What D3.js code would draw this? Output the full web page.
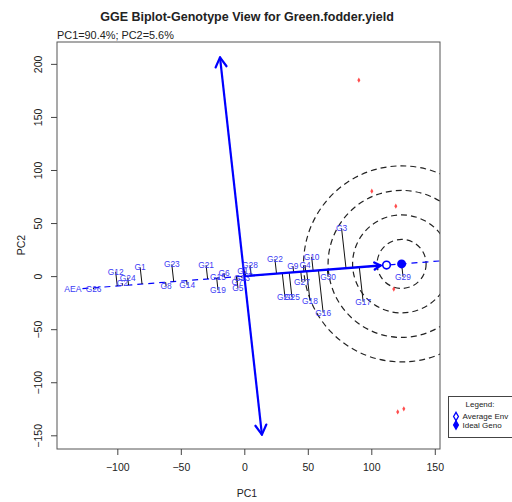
<!DOCTYPE html>
<html>
<head>
<meta charset="utf-8">
<script src="https://cdn.jsdelivr.net/npm/d3@7"></script>
<style>
body { margin: 0; background: #fff; }
text { font-family: "Liberation Sans", Arial, sans-serif; }
</style>
</head>
<body>
<script>
// genotype scores (PC1, PC2)
const genotypes = ['G1','G2','G3','G4','G5','G6','G7','G8','G9','G10',
  'G11','G12','G13','G14','G15','G16','G17','G18','G19','G20',
  'G21','G22','G23','G24','G25','G26','G27','G28','G29','G30'];
const pc1 = [-82, -96.1, 76.6, 47.8, -5, -16, -5.7, -61.6, 38.3, 53,
  0.5, -101.3, -1.8, -45, -20.7, 62.1, 93.6, 51.7, -20.7, 32,
  -30.1, 24.1, -57.1, -91.8, 37.5, -118.7, 45.4, 4.5, 125, 66];
const pc2 = [8.2, -6.6, 44.9, 10.4, -11.3, 2.8, -5.6, -9.4, 9.4, 18.2,
  5, 4.2, -1.9, -8.5, -0.9, -34.5, -24.2, -23.2, -13.2, -19.8,
  10.4, 16, 11, -1.4, -19.8, -12.5, -5.6, 10.4, -0.7, -0.7];

// environments (small red marks)
const envPc1 = [90.2, 100.4, 119.3, 117.7, 120.8, 125.6];
const envPc2 = [184.6, 80, 65.9, -12.2, -128, -125];

const avgEnv = [112, 10.4];
const circleRadii = [19.3, 38.6, 57.9, 77.2];
const atcRange = [207, -150];   // along the axis perpendicular to AEA
const aeaDashRange = [-128, 220];

const xTicks = [-100, -50, 0, 50, 100, 150];
const yTicks = [-150, -100, -50, 0, 50, 100, 150, 200];

const W = 512, H = 502;
const box = {left: 57, right: 440, top: 42, bottom: 449};

const svg = d3.select('body').append('svg')
  .attr('width', W).attr('height', H);

const x = d3.scaleLinear().domain([-147.5, 154.1]).range([box.left, box.right]);
const y = d3.scaleLinear().domain([-162.9, 220.6]).range([box.bottom, box.top]);

svg.append('defs').append('clipPath').attr('id', 'clip')
  .append('rect')
  .attr('x', box.left).attr('y', box.top)
  .attr('width', box.right - box.left).attr('height', box.bottom - box.top);

const plot = svg.append('g').attr('clip-path', 'url(#clip)');

// AEA unit vector and perpendicular
const len = Math.hypot(avgEnv[0], avgEnv[1]);
const u = [avgEnv[0] / len, avgEnv[1] / len];
const v = [-u[1], u[0]];

const proj = (i) => {
  const t = pc1[i] * u[0] + pc2[i] * u[1];
  return [t * u[0], t * u[1]];
};

// ideal genotype: the largest projection on the AEA
let best = 0;
pc1.forEach((d, i) => {
  if (pc1[i]*u[0] + pc2[i]*u[1] > pc1[best]*u[0] + pc2[best]*u[1]) best = i;
});
const ideal = proj(best);

// concentric circles
plot.selectAll('circle.ring').data(circleRadii).join('circle')
  .attr('class', 'ring')
  .attr('cx', x(ideal[0])).attr('cy', y(ideal[1]))
  .attr('r', (d) => x(d) - x(0))
  .attr('fill', 'none').attr('stroke', '#222')
  .attr('stroke-width', 1.2).attr('stroke-dasharray', '6,4');

// dashed AEA line
plot.append('line')
  .attr('x1', x(aeaDashRange[0]*u[0])).attr('y1', y(aeaDashRange[0]*u[1]))
  .attr('x2', x(aeaDashRange[1]*u[0])).attr('y2', y(aeaDashRange[1]*u[1]))
  .attr('stroke', 'blue').attr('stroke-width', 1.2).attr('stroke-dasharray', '6,5');

// arrow head helper (pixel space)
function head(g, x0, y0, x1, y1, size, w) {
  const a = Math.atan2(y1 - y0, x1 - x0);
  [Math.PI/6, -Math.PI/6].forEach((s) => {
    g.append('line')
      .attr('x1', x1).attr('y1', y1)
      .attr('x2', x1 - size*Math.cos(a - s)).attr('y2', y1 - size*Math.sin(a - s))
      .attr('stroke', 'blue').attr('stroke-width', w).attr('stroke-linecap', 'round');
  });
}

// ATC line with arrows both ends
const ax1 = x(atcRange[0]*v[0]), ay1 = y(atcRange[0]*v[1]);
const ax2 = x(atcRange[1]*v[0]), ay2 = y(atcRange[1]*v[1]);
plot.append('line')
  .attr('x1', ax1).attr('y1', ay1).attr('x2', ax2).attr('y2', ay2)
  .attr('stroke', 'blue').attr('stroke-width', 2.2);
head(plot, ax2, ay2, ax1, ay1, 11, 2.2);
head(plot, ax1, ay1, ax2, ay2, 11, 2.2);

// projection lines
plot.selectAll('line.proj').data(genotypes).join('line')
  .attr('class', 'proj')
  .attr('x1', (d, i) => x(pc1[i])).attr('y1', (d, i) => y(pc2[i]))
  .attr('x2', (d, i) => x(proj(i)[0])).attr('y2', (d, i) => y(proj(i)[1]))
  .attr('stroke', '#111').attr('stroke-width', 1);

// solid AEA arrow, origin to average environment
const ex = x(avgEnv[0]), ey = y(avgEnv[1]);
const ox = x(0), oy = y(0);
const dl = Math.hypot(ex - ox, ey - oy);
const tx = ex - (ex - ox) / dl * 6, ty = ey - (ey - oy) / dl * 6;
plot.append('line')
  .attr('x1', ox).attr('y1', oy).attr('x2', tx).attr('y2', ty)
  .attr('stroke', 'blue').attr('stroke-width', 2.4);
head(plot, ox, oy, tx, ty, 7, 2.4);

// genotype labels
plot.selectAll('text.geno').data(genotypes).join('text')
  .attr('class', 'geno')
  .attr('x', (d, i) => x(pc1[i])).attr('y', (d, i) => y(pc2[i]))
  .attr('dy', '0.35em')
  .attr('text-anchor', 'middle')
  .attr('font-size', 8.4)
  .attr('fill', '#3b3bf5')
  .text((d) => d);

// AEA label
plot.append('text')
  .attr('x', x(aeaDashRange[0]*u[0]) - 1).attr('y', y(aeaDashRange[0]*u[1]))
  .attr('dy', '0.35em').attr('text-anchor', 'end')
  .attr('font-size', 8.6).attr('fill', '#3b3bf5')
  .text('AEA');

// environment marks
plot.selectAll('path.env').data(envPc1).join('path')
  .attr('class', 'env')
  .attr('transform', (d, i) => `translate(${x(envPc1[i])},${y(envPc2[i])})`)
  .attr('d', d3.symbol(d3.symbolDiamond, 8))
  .attr('fill', '#ff4d4d');

// average env and ideal genotype markers
plot.append('circle')
  .attr('cx', ex).attr('cy', ey).attr('r', 3.8)
  .attr('fill', 'white').attr('stroke', 'blue').attr('stroke-width', 1.6);
plot.append('circle')
  .attr('cx', x(ideal[0])).attr('cy', y(ideal[1])).attr('r', 4.5)
  .attr('fill', 'blue');

// box
svg.append('rect')
  .attr('x', box.left).attr('y', box.top)
  .attr('width', box.right - box.left).attr('height', box.bottom - box.top)
  .attr('fill', 'none').attr('stroke', '#555').attr('stroke-width', 1);

// axes
const xAxis = svg.append('g')
  .attr('transform', `translate(0,${box.bottom})`)
  .call(d3.axisBottom(x).tickValues(xTicks).tickSize(6).tickPadding(9));
const yAxis = svg.append('g')
  .attr('transform', `translate(${box.left},0)`)
  .call(d3.axisLeft(y).tickValues(yTicks).tickSize(6).tickPadding(8));
[xAxis, yAxis].forEach((a) => {
  a.select('.domain').remove();
  a.selectAll('line').attr('stroke', '#444');
  a.selectAll('text').attr('font-size', 10.5).attr('fill', '#222')
    .attr('font-family', '"Liberation Sans", Arial, sans-serif');
});
yAxis.selectAll('.tick text')
  .attr('x', 0).attr('dy', '0.35em')
  .attr('text-anchor', 'middle')
  .attr('transform', 'translate(-19,0) rotate(-90)');

svg.append('text')
  .attr('x', 247).attr('y', 497)
  .attr('text-anchor', 'middle').attr('font-size', 10.5).attr('fill', '#222')
  .text('PC1');
svg.append('text')
  .attr('transform', 'translate(25,245) rotate(-90)')
  .attr('text-anchor', 'middle').attr('font-size', 10.5).attr('fill', '#222')
  .text('PC2');

// titles
svg.append('text')
  .attr('x', 247).attr('y', 21)
  .attr('text-anchor', 'middle').attr('font-size', 12.5).attr('font-weight', 'bold')
  .attr('fill', '#222')
  .text('GGE Biplot-Genotype View for Green.fodder.yield');
svg.append('text')
  .attr('x', 57).attr('y', 38.5)
  .attr('font-size', 10.9).attr('fill', '#222')
  .text('PC1=90.4%; PC2=5.6%');

// legend
const lg = svg.append('g').attr('transform', 'translate(448.5,396.5)');
lg.append('rect').attr('width', 70).attr('height', 41)
  .attr('fill', 'white').attr('stroke', '#444');
lg.append('text').attr('x', 31.5).attr('y', 10)
  .attr('text-anchor', 'middle').attr('font-size', 8).attr('fill', '#222')
  .text('Legend:');
const items = ['Average Env', 'Ideal Geno'];
items.forEach((t, i) => {
  const yy = 20 + i * 8.5;
  lg.append('path')
    .attr('transform', `translate(7.5,${yy})`)
    .attr('d', d3.symbol(d3.symbolDiamond, 20))
    .attr('fill', i ? 'blue' : 'white')
    .attr('stroke', 'blue').attr('stroke-width', 1.3);
  lg.append('text').attr('x', 14).attr('y', yy).attr('dy', '0.35em')
    .attr('font-size', 8).attr('fill', '#222')
    .text(t);
});
</script>
</body>
</html>
